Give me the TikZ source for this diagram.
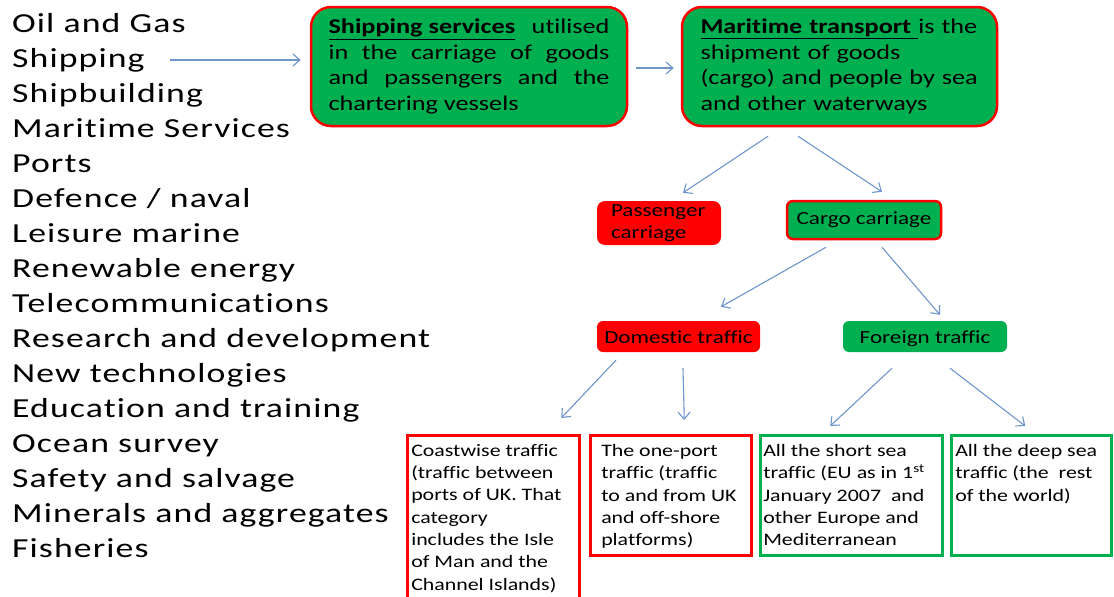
\documentclass[tikz,border=0pt]{standalone}
\usepackage{fontspec}
\setmainfont{Carlito}[FakeStretch=1.25,RawFeature=-liga,RawFeature=-clig,RawFeature=-dlig,RawFeature=-calt]
\newfontfamily\listfont{Carlito}[FakeStretch=1.3,LetterSpace=4,RawFeature=-liga,RawFeature=-clig,RawFeature=-dlig,RawFeature=-calt]
\usetikzlibrary{calc,arrows.meta}
\definecolor{gr}{RGB}{0,176,80}
\definecolor{rd}{RGB}{255,0,0}
\definecolor{ar}{RGB}{110,150,205}
\tikzset{
  listitem/.style={anchor=base west,inner sep=0pt,font=\listfont\fontsize{27.5}{30}\selectfont},
  topbox/.style={draw=rd,line width=2.5pt,fill=gr,rounded corners=20pt,minimum height=119pt,inner sep=0pt,font=\fontsize{21}{25.5}\selectfont},
  midbox/.style={inner sep=0pt,font=\fontsize{18.5}{22}\selectfont,align=center},
  botbox/.style={line width=2.5pt,fill=white,inner sep=0pt,anchor=north west,font=\fontsize{17.5}{22.3}\selectfont},
  arr/.style={draw=ar,line width=1.1pt,-{Straight Barb[length=7pt,width=12pt]}}
}
\newcommand{\bt}[4]{\parbox[c][#2][t]{#1}{\vspace{9pt}\hspace*{#3}\parbox[t]{\dimexpr#1-#3\relax}{\raggedright #4}}}
\begin{document}
\begin{tikzpicture}[x=1pt,y=-1pt]
\useasboundingbox[fill=white] (0,0) rectangle (1114,597);
% left list
\node[listitem] (l1) at (12,32) {Oil and Gas};
\node[listitem] (l2) at (12,67) {Shipping};
\node[listitem] (l3) at (12,102) {Shipbuilding};
\node[listitem] (l4) at (12,137) {Maritime Services};
\node[listitem] (l5) at (12,172) {Ports};
\node[listitem] (l6) at (12,207) {Defence / naval};
\node[listitem] (l7) at (12,242) {Leisure marine};
\node[listitem] (l8) at (12,277) {Renewable energy};
\node[listitem] (l9) at (12,312) {Telecommunications};
\node[listitem] (l10) at (12,347) {Research and development};
\node[listitem] (l11) at (12,382) {New technologies};
\node[listitem] (l12) at (12,417) {Education and training};
\node[listitem] (l13) at (12,452) {Ocean survey};
\node[listitem] (l14) at (12,487) {Safety and salvage};
\node[listitem] (l15) at (12,522) {Minerals and aggregates};
\node[listitem] (l16) at (12,557) {Fisheries};
% top boxes
\node[topbox,minimum width=316pt,text width=281pt,align=justify] (ss) at (469,66.5)
  {\hyphenpenalty=10000\underline{\textbf{Shipping services}} utilised\linebreak in the carriage of goods\linebreak and passengers and the\linebreak chartering vessels};
\node[topbox,minimum width=315pt,text width=278pt,align=left] (mt) at (839.5,66.5)
  {\underline{\textbf{Maritime transport }}is the\\ shipment of goods\\ (cargo) and people by sea\\ and other waterways};
% middle nodes
\node[midbox,fill=rd,rounded corners=8pt,minimum width=124pt,minimum height=44pt,align=left,text width=96pt] (pc) at (659,223)
  {Passenger\\ carriage};
\node[midbox,fill=gr,draw=rd,line width=2.5pt,rounded corners=6pt,minimum width=154pt,minimum height=38pt] (cc) at (864,220)
  {Cargo carriage};
\node[midbox,fill=rd,rounded corners=6pt,minimum width=163pt,minimum height=31pt] (dt) at (678.5,336.5)
  {\raisebox{-6.5pt}[0pt][0pt]{Domestic traffic}};
\node[midbox,fill=gr,rounded corners=6pt,minimum width=164pt,minimum height=31pt] (ft) at (925,336.5)
  {\raisebox{-6.5pt}[0pt][0pt]{Foreign traffic}};
% bottom boxes
\node[botbox,draw=rd] (cw) at (406,434) {\bt{172pt}{180pt}{4pt}{Coastwise traffic\\ (traffic between\\ ports of UK. That\\ category\\ includes the Isle\\ of Man and the\\ Channel Islands)}};
\node[botbox,draw=rd] (op) at (589,434) {\bt{161pt}{120pt}{11pt}{The one-port\\ traffic (traffic\\ to and from UK\\ and off-shore\\ platforms)}};
\node[botbox,draw=gr] (sh) at (759,434) {\bt{182pt}{120pt}{3pt}{All the short sea\\ traffic (EU as in 1\textsuperscript{st}\\ January 2007~ and\\ other Europe and\\ Mediterranean}};
\node[botbox,draw=gr] (dp) at (950,434) {\bt{160pt}{120pt}{4pt}{All the deep sea\\ traffic (the~ rest\\ of the world)}};
% connectors
\coordinate (shipstart) at (170,60);
\draw[arr] (shipstart) -- ($(ss.west)+(-9,-6.5)$);
\draw[arr] ($(ss.east)+(8,1.5)$) -- ($(mt.west)+(-7,1.5)$);
\draw[arr] ($(mt.south)+(-71.5,9)$) -- ($(pc.north)+(24,-8)$);
\draw[arr] ($(mt.south)+(-41.5,9)$) -- ($(cc.north)+(18,-8)$);
\draw[arr] ($(cc.south)+(-38,7)$) -- ($(dt.north)+(42.5,-14)$);
\draw[arr] ($(cc.south)+(18,7)$) -- ($(ft.north)+(15,-6)$);
\draw[arr] ($(dt.south)+(-62.5,8)$) -- ($(cw.north)+(68,-16)$);
\draw[arr] ($(dt.south)+(4.5,16)$) -- ($(op.north)+(13.5,-14)$);
\draw[arr] ($(ft.south)+(-33,16)$) -- ($(sh.north)+(-21,-8)$);
\draw[arr] ($(ft.south)+(25,16)$) -- ($(dp.north)+(-6,-8)$);
\end{tikzpicture}
\end{document}
